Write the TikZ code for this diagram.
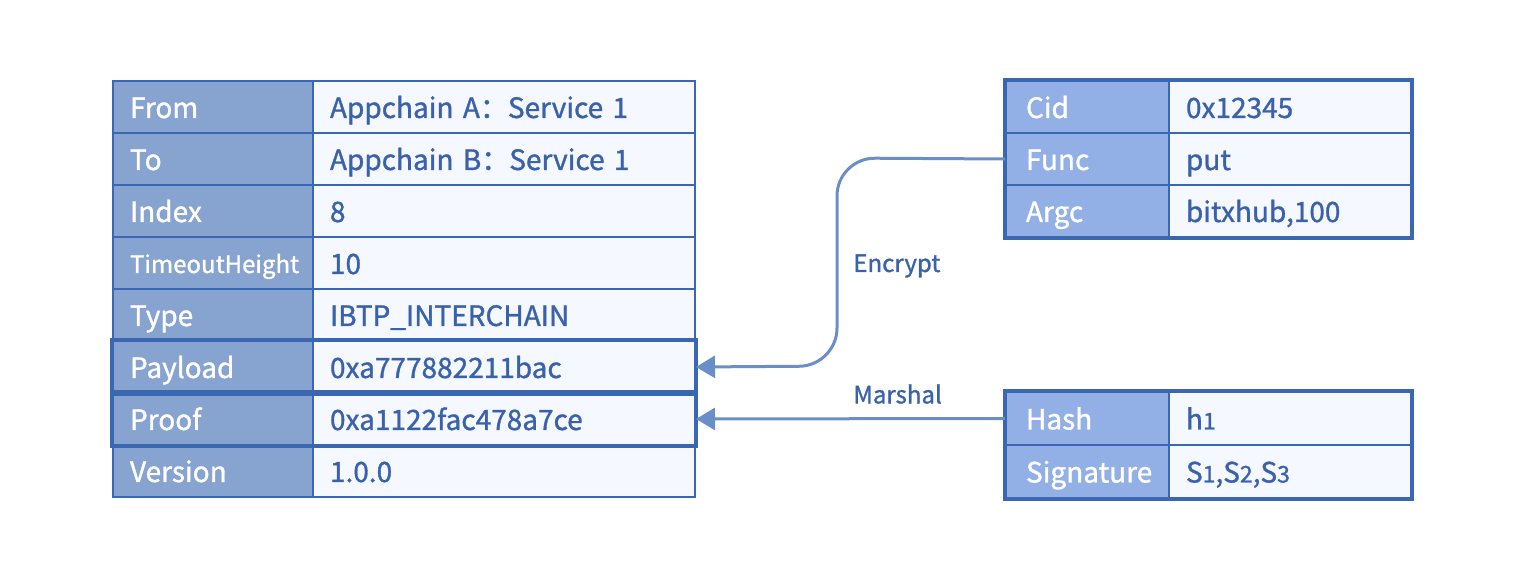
\documentclass[tikz,border=0pt]{standalone}
\usepackage{fontspec}
\setmainfont{Noto Sans CJK SC}[RawFeature={embolden=1.2}]
\usetikzlibrary{arrows.meta}
\definecolor{bord}{HTML}{3A67B2}
\definecolor{hdrL}{HTML}{87A3D0}
\definecolor{hdrR}{HTML}{92B0E6}
\definecolor{valf}{HTML}{F5F8FF}
\definecolor{valt}{HTML}{3A62AC}
\definecolor{arr}{HTML}{6A8FC8}
\newcommand{\sbs}[1]{{\fontsize{11.5pt}{11pt}\selectfont #1}}
\begin{document}
\begin{tikzpicture}[x=1pt,y=-1pt,
  cell/.style={draw=bord, line width=1pt, anchor=north west, inner ysep=0pt,
    text height=11pt, text depth=0pt, align=left,
    font=\fontsize{14pt}{16pt}\selectfont},
  lhead/.style={cell, fill=hdrL, text=white, minimum width=100pt, minimum height=26pt, inner xsep=8.5pt, text width=83pt},
  lval/.style={cell, fill=valf, text=valt, minimum width=191pt, minimum height=26pt, inner xsep=8.5pt, text width=174pt},
  rhead/.style={cell, fill=hdrR, text=white, minimum width=81.5pt, inner xsep=10pt, text width=61.5pt},
  rval/.style={cell, fill=valf, text=valt, minimum width=121pt, inner xsep=8.5pt, text width=104pt},
  frame/.style={draw=bord, line width=2pt},
  conn/.style={draw=arr, line width=1.5pt, -{Triangle[length=9.5pt,width=11pt]}},
  lbl/.style={text=valt, anchor=west, inner sep=0pt, font=\fontsize{12pt}{14pt}\selectfont}
]
\useasboundingbox (0,0) rectangle (760,288);
% left table
\node[lhead] (lh1) at (56,40) {From};
\node[lval]  (lv1) at (156,40) {Appchain A：Service 1};
\node[lhead] (lh2) at (56,66) {To};
\node[lval]  (lv2) at (156,66) {Appchain B：Service 1};
\node[lhead] (lh3) at (56,92) {Index};
\node[lval]  (lv3) at (156,92) {8};
\node[lhead, font=\fontsize{12pt}{14pt}\selectfont, text height=10pt] (lh4) at (56,118) {TimeoutHeight};
\node[lval]  (lv4) at (156,118) {10};
\node[lhead] (lh5) at (56,144) {Type};
\node[lval]  (lv5) at (156,144) {IBTP\_INTERCHAIN};
\node[lhead] (lh6) at (56,170) {Payload};
\node[lval]  (lv6) at (156,170) {0xa777882211bac};
\node[lhead] (lh7) at (56,196) {Proof};
\node[lval]  (lv7) at (156,196) {0xa1122fac478a7ce};
\node[lhead] (lh8) at (56,222) {Version};
\node[lval]  (lv8) at (156,222) {1.0.0};
\draw[frame] (lh6.north west) rectangle (lv6.south east);
\draw[frame] (lh7.north west) rectangle (lv7.south east);
% right top table
\node[rhead, minimum height=26pt] (rh1) at (502.5,40) {Cid};
\node[rval, minimum height=26pt]  (rv1) at (584,40) {0x12345};
\node[rhead, minimum height=26pt] (rh2) at (502.5,66) {Func};
\node[rval, minimum height=26pt]  (rv2) at (584,66) {put};
\node[rhead, minimum height=26pt] (rh3) at (502.5,92) {Argc};
\node[rval, minimum height=26pt]  (rv3) at (584,92) {bitxhub,100};
\draw[frame] (rh1.north west) rectangle (rv3.south east);
% right bottom table
\node[rhead, minimum height=26.5pt] (bh1) at (502.5,195.5) {Hash};
\node[rval, minimum height=26.5pt]  (bv1) at (584,195.5) {h\sbs{1}};
\node[rhead, minimum height=26.5pt] (bh2) at (502.5,222) {Signature};
\node[rval, minimum height=26.5pt]  (bv2) at (584,222) {S\sbs{1},S\sbs{2},S\sbs{3}};
\draw[frame] (bh1.north west) rectangle (bv2.south east);
% connectors
\coordinate (c1) at (418.5,79);
\coordinate (c2) at (418.5,183);
\draw[conn, rounded corners=19pt] (rh2.west) -- (c1) -- (c2) -- (lv6.east);
\draw[conn] (bh1.west) -- (lv7.east);
\node[lbl] (enc) at (426.5,133) {Encrypt};
\node[lbl] (mar) at (426.5,197) {Marshal};
\end{tikzpicture}
\end{document}
